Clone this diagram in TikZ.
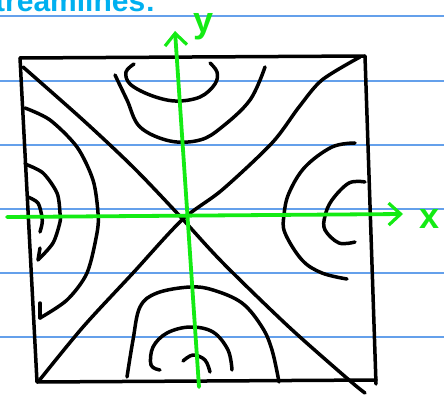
\documentclass[tikz,border=0pt]{standalone}
\usepackage{fontspec}
\setmainfont{Liberation Sans}
\usetikzlibrary{arrows.meta}
\definecolor{rulecol}{RGB}{100,160,235}
\definecolor{axisgreen}{RGB}{20,235,20}
\definecolor{titlecyan}{RGB}{0,176,240}
\begin{document}
\begin{tikzpicture}[x=1pt,y=-1pt, line cap=round, line join=round,
  stroke/.style={line width=3.5pt, black},
  axisline/.style={line width=3.8pt, axisgreen, -{Straight Barb[length=12pt,width=22pt,line width=3.2pt]}},
  ruled/.style={line width=1.2pt, rulecol},
  axlabel/.style={text=axisgreen, font=\fontsize{36}{36}\selectfont\bfseries, inner sep=0}]
\useasboundingbox (0,0) rectangle (444,398);
\fill[white] (0,0) rectangle (444,398);
\foreach \y in {16,81,145,209,273,337} \draw[ruled] (0,\y) -- (444,\y);
\begin{scope}
\clip (0,0) rectangle (444,398);
\node[anchor=base west, text=titlecyan, font=\fontsize{30}{30}\selectfont\bfseries, inner sep=0] (title) at (-25,12) {Streamlines:};
\end{scope}
% square
\draw[stroke] (20,58) -- (365,56) -- (376,384);
\draw[stroke] (20,58) -- (37,382) -- (376,380);
% diagonals
\draw[stroke] plot[smooth] coordinates {(23,67) (83,120) (133,167) (177,213) (222,262) (289,327) (349,380) (365,393)};
\draw[stroke] plot[smooth] coordinates {(38,382) (83,327) (133,273) (182,220) (222,190) (272,143) (299,107) (322,80) (360,57)};
% top curves
\draw[stroke] plot[smooth, tension=0.6] coordinates {(134,64) (126,72) (130,84) (150,95) (175,101) (200,97) (215,84) (217,72) (210,63)};
\draw[stroke] plot[smooth, tension=0.6] coordinates {(115,75) (127,100) (140,127) (170,141) (200,140) (222,127) (250,100) (265,67)};
% left curves
\draw[stroke] plot[smooth] coordinates {(25,108) (50,120) (77,147) (93,180) (98,213) (97,233) (87,273) (67,300) (40,318)};
\draw[stroke] (40,318) -- (40,303);
\draw[stroke] plot[smooth] coordinates {(25,164) (43,173) (57,193) (60,213) (60,222) (53,243) (38,260)};
\draw[stroke] (38,260) -- (40,248);
\draw[stroke] plot[smooth] coordinates {(28,197) (38,203) (42,217) (42,224) (40,232)};
% right curves
\draw[stroke] plot[smooth, tension=0.6] coordinates {(355,143) (332,147) (305,167) (289,193) (284,215) (285,233) (302,260) (322,273) (347,279)};
\draw[stroke] plot[smooth, tension=0.6] coordinates {(365,182) (349,183) (332,200) (325,216) (325,230) (339,243) (355,242)};
% bottom curves
\draw[stroke] plot[smooth, tension=0.6] coordinates {(127,377) (133,340) (140,307) (157,293) (190,287) (213,290) (242,303) (262,327) (272,350) (279,382)};
\draw[stroke] plot[smooth, tension=0.6] coordinates {(160,370) (151,365) (153,347) (167,333) (190,327) (213,332) (228,350) (232,370)};
\draw[stroke] plot[smooth, tension=0.6] coordinates {(183,361) (193,355) (205,360) (210,372)};
% axes
\coordinate (xs) at (7,217);
\coordinate (xe) at (403,214);
\coordinate (ys) at (199,387);
\coordinate (ye) at (175,31);
\draw[axisline] (xs) -- (xe);
\draw[axisline] (ys) -- (ye);
\node[axlabel] (xl) at (430,219) {x};
\node[axlabel] (yl) at (204,27) {y};
\end{tikzpicture}
\end{document}
